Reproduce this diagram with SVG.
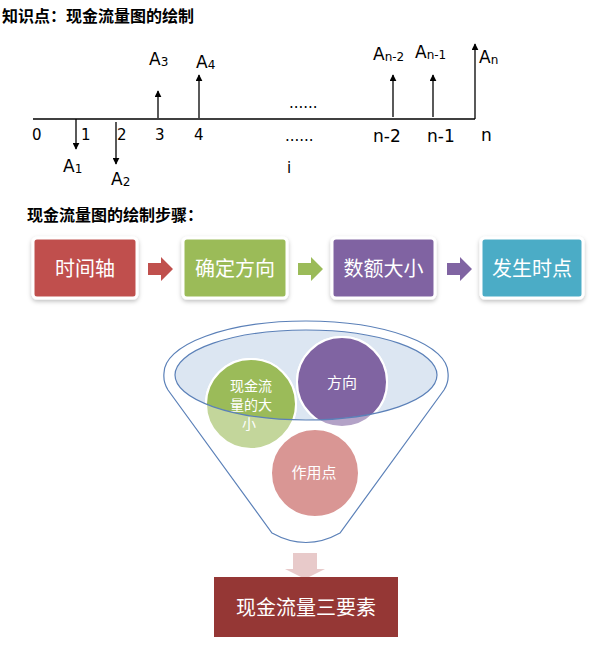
<svg xmlns="http://www.w3.org/2000/svg" width="597" height="646" viewBox="0 0 597 646">
<style>
.h{font-family:"Noto Sans CJK SC","DejaVu Sans",sans-serif;font-weight:bold;font-size:16px;fill:#000}
.d{font-family:"DejaVu Sans",sans-serif;font-size:15px;fill:#000}
.n{font-family:"DejaVu Sans",sans-serif;font-size:17px;fill:#000}
.a{font-family:"DejaVu Sans",sans-serif;font-size:17px;fill:#000}
.s{font-size:12px}
.ax{stroke:#000;stroke-width:1.3;fill:none}
.cf{stroke:#000;stroke-width:1.3;fill:none;marker-end:url(#ah)}
.bx{stroke:#fff;stroke-width:3;filter:url(#sh)}
.bt{font-family:"Noto Sans CJK SC",sans-serif;font-size:20px;fill:#fff;text-anchor:middle}
.ct{font-family:"Noto Sans CJK SC",sans-serif;font-size:15px;fill:#fff;text-anchor:middle}
.cs{font-family:"Noto Sans CJK SC",sans-serif;font-size:14px;fill:#fff;text-anchor:middle}
.fl{fill:none;stroke:#5B80B8;stroke-width:1.2}
</style>
<defs>
<marker id="ah" viewBox="0 0 10 10" refX="9" refY="5" markerWidth="7" markerHeight="7" markerUnits="userSpaceOnUse" orient="auto"><path d="M0,0 L10,5 L0,10 Z" fill="#000"/></marker>
<filter id="sh" x="-10%" y="-10%" width="120%" height="130%"><feDropShadow dx="0" dy="2" stdDeviation="2" flood-color="#000" flood-opacity="0.25"/></filter>
<clipPath id="inEll"><ellipse cx="306" cy="375" rx="131" ry="45"/></clipPath>
</defs>

<g id="title"><text class="h" x="2" y="22">知识点：现金流量图的绘制</text></g>

<g id="timeline">
<line class="ax" x1="33" y1="119" x2="475" y2="119"/>
<text class="d" x="32" y="140">0</text>
<text class="d" x="81" y="140">1</text>
<text class="d" x="117" y="140">2</text>
<text class="d" x="155" y="140">3</text>
<text class="d" x="194" y="140">4</text>
<text class="d" x="289" y="108">......</text>
<text class="d" x="285" y="141">......</text>
<text class="d" x="287" y="173">i</text>
<text class="n" x="373" y="142">n-2</text>
<text class="n" x="427" y="142">n-1</text>
<text class="n" x="481" y="141">n</text>
</g>

<g id="connectors">
<line class="cf" x1="76" y1="119" x2="76" y2="149"/>
<line class="cf" x1="116" y1="122" x2="116" y2="164"/>
<line class="cf" x1="158" y1="118" x2="158" y2="91"/>
<line class="cf" x1="199" y1="118" x2="199" y2="75"/>
<line class="cf" x1="393" y1="117" x2="393" y2="75"/>
<line class="cf" x1="433" y1="117" x2="433" y2="75"/>
<line class="cf" x1="475" y1="119" x2="475" y2="44"/>
<path d="M148,263 H161 V257 L173,269 L161,281 V275 H148 Z" fill="#C0504D"/>
<path d="M298,263 H311 V257 L323,269 L311,281 V275 H298 Z" fill="#9BBB59"/>
<path d="M447,263 H460 V257 L472,269 L460,281 V275 H447 Z" fill="#8064A2"/>
<path d="M293,553 H317 V569 H325 L305,579 L285,569 H293 Z" fill="#E8CACA"/>
</g>

<g id="labels">
<text class="a" x="63" y="172">A<tspan class="s" dy="1">1</tspan></text>
<text class="a" x="111" y="185">A<tspan class="s" dy="1">2</tspan></text>
<text class="a" x="149" y="65">A<tspan class="s" dy="1">3</tspan></text>
<text class="a" x="196" y="68">A<tspan class="s" dy="1">4</tspan></text>
<text class="a" x="373" y="60">A<tspan class="s" dy="1">n-2</tspan></text>
<text class="a" x="415" y="58">A<tspan class="s" dy="1">n-1</tspan></text>
<text class="a" x="479" y="63">A<tspan class="s" dy="1">n</tspan></text>
</g>

<g id="steps-title"><text class="h" x="27" y="221">现金流量图的绘制步骤：</text></g>

<g id="step1"><rect class="bx" x="33" y="238" width="104" height="60" rx="4" fill="#C0504D"/><text class="bt" x="85" y="276">时间轴</text></g>
<g id="step2"><rect class="bx" x="183" y="238" width="104" height="60" rx="4" fill="#9BBB59"/><text class="bt" x="235" y="276">确定方向</text></g>
<g id="step3"><rect class="bx" x="332" y="238" width="103" height="60" rx="4" fill="#8064A2"/><text class="bt" x="383.5" y="276">数额大小</text></g>
<g id="step4"><rect class="bx" x="481" y="238" width="102" height="60" rx="4" fill="#4BACC6"/><text class="bt" x="532" y="276">发生时点</text></g>

<g id="funnel">
<path class="fl" d="M164,373 A142,52 0 0 1 448,373 Q449,382 444,390 L340,533 Q306,552 272,533 L168,390 Q163,382 164,373 Z" fill="#fff"/>
<ellipse cx="306" cy="375" rx="131" ry="45" fill="#DCE6F2"/>
</g>

<g id="circle-size">
<circle cx="251" cy="404" r="45" fill="#C3D69B" stroke="#fff" stroke-width="2"/>
<circle cx="251" cy="404" r="45" fill="#9BBB59" stroke="#fff" stroke-width="2" clip-path="url(#inEll)"/>
<text class="cs" x="251" y="391">现金流</text>
<text class="cs" x="251" y="410">量的大</text>
<text class="cs" x="249" y="429">小</text>
</g>
<g id="circle-direction">
<circle cx="342" cy="382" r="45" fill="#B3A2C7" stroke="#fff" stroke-width="2"/>
<circle cx="342" cy="382" r="45" fill="#8064A2" stroke="#fff" stroke-width="2" clip-path="url(#inEll)"/>
<text class="ct" x="342" y="388">方向</text>
</g>
<g id="circle-point">
<circle cx="315" cy="473" r="44" fill="#D99694" stroke="#fff" stroke-width="2"/>
<text class="ct" x="314" y="478">作用点</text>
</g>
<g id="funnel-rim"><ellipse class="fl" cx="306" cy="375" rx="131" ry="45"/></g>

<g id="result"><rect x="214" y="577" width="184" height="60" fill="#953735"/><text class="bt" x="306" y="615">现金流量三要素</text></g>
</svg>
